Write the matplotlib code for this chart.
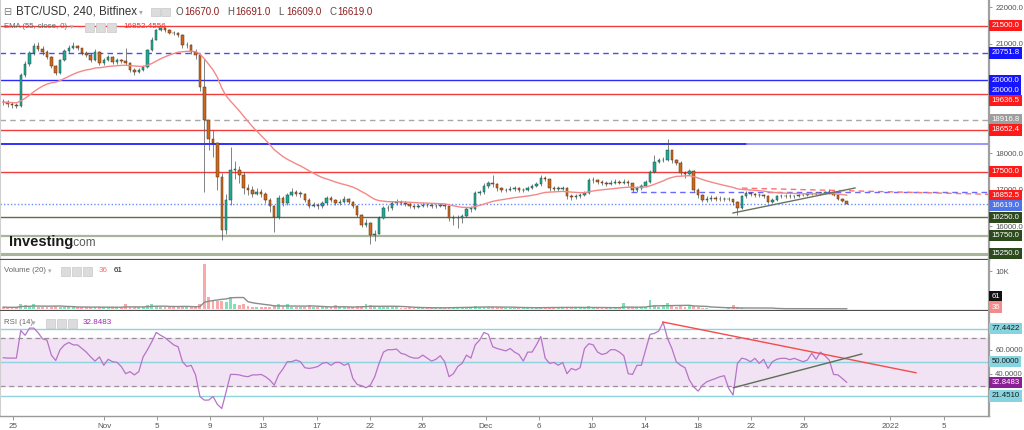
import numpy as np
import pandas as pd
import matplotlib
matplotlib.use("Agg")
import matplotlib.pyplot as plt
from matplotlib.patches import Rectangle
from matplotlib.transforms import blended_transform_factory, ScaledTranslation

W, H = 1024, 430
FONT = ['Liberation Sans', 'DejaVu Sans']
plt.rcParams['font.family'] = FONT

# ---------------- data (8-hour bars) ----------------
first_open = 19420
closes = [
    19400, 19350, 19330, 19300,
    20150, 20450, 20750, 20950,
    20850, 20780, 20640, 20390, 20200, 20560, 20800, 20900, 20930, 20880,
    20750, 20700, 20560, 20780, 20470, 20560, 20640, 20500, 20560, 20520,
    20470, 20280, 20230, 20280, 20370, 20830, 21120, 21380, 21430, 21370,
    21310, 21300, 21250, 20960, 20960, 20780, 20690, 19820, 18910, 18400,
    18280, 17350, 15900, 16730, 17550, 17550, 17410, 17050, 16990, 16900,
    16950, 16900, 16730, 16550, 16260, 16780, 16640, 16850, 16950, 16900,
    16900, 16730, 16570, 16600, 16550, 16640, 16780, 16730, 16650, 16680,
    16750, 16680, 16550, 16310, 16040, 16080, 15760, 15800, 16230, 16500,
    16500, 16640, 16680, 16640, 16620, 16550, 16530, 16560, 16600, 16580,
    16550, 16560, 16580, 16550, 16230, 16230, 16230, 16280, 16480, 16480,
    16910, 16950, 17100, 17180, 17150, 17050, 16990, 16990, 17030, 17050,
    16990, 17000, 17050, 17100, 17150, 17330, 17290, 17050, 17030, 17030,
    17050, 16820, 16800, 16840, 16850, 16910, 17270, 17270, 17230, 17190,
    17170, 17200, 17230, 17200, 17230, 17190, 17000, 17050, 17100, 17230,
    17490, 17770, 17810, 17830, 18090, 17810, 17750, 17460, 17440, 17530,
    16990, 16850, 16730, 16750, 16780, 16750, 16760, 16750, 16750, 16680,
    16500, 16820, 16910, 16880, 16850, 16860, 16820, 16680, 16730, 16820,
    16840, 16820, 16840, 16820, 16850, 16860, 16880, 16890, 16910, 16890,
    16930, 16950, 16860, 16750, 16700, 16619,
]
highs = [
    19480, 19450, 19420, 19380,
    20200, 20520, 20800, 21020,
    21050, 20950, 20820, 20680, 20420, 20600, 20850, 20980, 21050, 20980,
    20900, 20800, 20760, 20850, 20800, 20620, 20700, 20680, 20620, 20600,
    20900, 20500, 20330, 20350, 20420, 20860, 21180, 21420, 21470, 21450,
    21400, 21350, 21330, 21260, 21050, 20990, 20850, 20700, 20600, 18900,
    18650, 18300, 17450, 16900, 18170, 17800, 17650, 17500, 17150, 17100,
    17050, 17030, 16950, 16780, 16600, 16850, 16830, 16920, 17050, 17000,
    16980, 16920, 16770, 16680, 16650, 16700, 16830, 16820, 16760, 16740,
    16820, 16780, 16700, 16600, 16350, 16200, 16120, 15900, 16280, 16560,
    16580, 16700, 16750, 16720, 16700, 16650, 16600, 16620, 16660, 16640,
    16620, 16620, 16640, 16620, 16560, 16300, 16300, 16350, 16520, 16550,
    16980, 17000, 17180, 17250, 17400, 17200, 17080, 17060, 17100, 17120,
    17080, 17060, 17120, 17160, 17230, 17420, 17380, 17300, 17100, 17100,
    17120, 17080, 16880, 16900, 16920, 16960, 17320, 17350, 17300, 17260,
    17240, 17260, 17300, 17270, 17300, 17270, 17200, 17100, 17150, 17280,
    17550, 17950, 17880, 17900, 18400, 18100, 17850, 17780, 17520, 17580,
    17550, 17050, 16900, 16820, 16850, 16820, 16820, 16810, 16800, 16760,
    16700, 16860, 16980, 16950, 16920, 16920, 16900, 16850, 16770, 16860,
    16890, 16880, 16880, 16870, 16880, 16900, 16920, 16930, 16950, 16940,
    16970, 17020, 16970, 16880, 16780, 16691,
]
lows = [
    19330, 19260, 19250, 19240,
    19280, 20100, 20400, 20700,
    20800, 20700, 20580, 20350, 20150, 20180, 20520, 20750, 20850, 20820,
    20700, 20640, 20500, 20520, 20420, 20430, 20520, 20460, 20450, 20470,
    20420, 20220, 20150, 20200, 20250, 20340, 20800, 21100, 21350, 21320,
    21260, 21250, 21200, 20900, 20900, 20720, 20600, 19700, 16950, 18100,
    17900, 17000, 15630, 15800, 16600, 17300, 17200, 16900, 16850, 16800,
    16850, 16800, 16650, 16400, 15850, 16200, 16550, 16600, 16820, 16820,
    16800, 16680, 16500, 16520, 16480, 16500, 16600, 16680, 16600, 16600,
    16650, 16620, 16500, 16250, 15980, 15980, 15530, 15600, 15780, 16200,
    16420, 16450, 16600, 16580, 16560, 16500, 16470, 16500, 16520, 16520,
    16500, 16500, 16520, 16480, 16150, 16050, 15950, 16100, 16250, 16400,
    16450, 16850, 16900, 17050, 17080, 16980, 16940, 16930, 16960, 16980,
    16940, 16950, 16980, 17020, 17080, 17120, 17250, 16980, 16970, 16980,
    16990, 16760, 16730, 16760, 16790, 16820, 16880, 17200, 17170, 17140,
    17120, 17140, 17170, 17150, 17170, 17100, 16950, 16950, 17000, 17080,
    17200, 17450, 17740, 17760, 17800, 17750, 17680, 17400, 17330, 17400,
    16950, 16780, 16660, 16680, 16700, 16690, 16700, 16690, 16700, 16600,
    16310, 16480, 16780, 16820, 16800, 16800, 16780, 16640, 16650, 16700,
    16780, 16780, 16790, 16780, 16800, 16820, 16840, 16850, 16860, 16850,
    16880, 16900, 16830, 16720, 16660, 16609,
]
rsi = [
    53.3, 53, 53, 53, 76, 72, 78, 78, 74, 69,
    68, 55.5, 51, 60, 64, 66, 64, 64, 61, 58,
    54, 50.5, 54, 47, 52, 50, 49.5, 46, 40, 41.7,
    39, 41.7, 54, 60, 66.7, 74.4, 72, 70, 67, 64,
    62.5, 50, 46, 47, 39, 21, 18, 18, 21, 14.4,
    11, 25, 39.4, 39.4, 39, 38, 37.5, 39, 39, 39.4,
    37.5, 34.7, 30.5, 39, 44, 50, 50, 51.4, 50, 45,
    44.4, 45, 46, 48.6, 49.4, 47, 49.4, 49.4, 47, 48.6,
    36, 31, 30, 28.3, 30.5, 37.5, 48.6, 58, 60, 60,
    60.5, 57, 56, 54, 53, 53, 55.5, 53, 50.5, 52,
    55, 50, 37.5, 40, 46, 48.6, 55.5, 53, 64, 68,
    74.4, 72.8, 62.5, 61, 60, 59, 61, 58, 56, 50.5,
    58, 58, 64, 71, 53, 48.6, 49.4, 47, 49.4, 40,
    44.4, 43, 45, 61, 65, 64, 58, 56, 57, 60,
    60, 58, 55, 40, 39.4, 47, 47, 60, 72.8, 73.6,
    75.6, 82.8, 69.4, 61, 50, 47, 45, 34.7, 29, 25.5,
    30.5, 33.3, 34.7, 36, 37.5, 38.3, 27.8, 22.2, 48.6, 53,
    52, 50, 52.8, 48.6, 52, 44.4, 50, 52, 52.8, 52.8,
    51.7, 52.8, 51.4, 50, 51.4, 57, 52, 58, 55, 51.4,
    39.4, 39, 36, 32.85,
]
volume_k = [
    0.5, 0.4, 0.4, 0.5, 1.4, 1.0, 0.8, 1.3, 0.6, 0.5,
    0.5, 0.6, 0.7, 0.5, 0.6, 0.5, 0.4, 0.4, 0.5, 0.4,
    0.5, 0.6, 0.5, 0.4, 0.4, 0.5, 0.4, 0.4, 1.3, 0.6,
    0.5, 0.4, 0.5, 1.0, 1.3, 0.8, 0.6, 0.5, 0.5, 0.4,
    0.5, 0.7, 0.5, 0.6, 0.8, 1.3, 11.9, 3.2, 2.4, 2.0,
    2.2, 1.8, 3.2, 1.4, 1.0, 1.2, 0.8, 0.6, 0.5, 0.6,
    0.5, 0.6, 1.0, 1.3, 0.7, 1.2, 0.6, 0.5, 0.5, 0.6,
    1.0, 0.5, 0.4, 0.5, 0.5, 0.4, 1.0, 0.5, 0.4, 0.4,
    0.5, 0.7, 0.8, 1.2, 1.1, 0.8, 0.7, 0.6, 0.4, 0.4,
    0.4, 0.3, 0.3, 0.4, 0.3, 0.3, 0.3, 0.3, 0.3, 0.3,
    0.3, 0.3, 0.6, 0.5, 0.5, 0.4, 0.5, 0.4, 0.9, 0.5,
    0.6, 0.5, 0.5, 0.4, 0.4, 0.3, 0.3, 0.3, 0.3, 0.3,
    0.3, 0.3, 0.4, 0.6, 0.5, 0.5, 0.4, 0.3, 0.3, 0.5,
    0.4, 0.3, 0.3, 0.3, 0.7, 0.4, 0.3, 0.3, 0.3, 0.3,
    0.3, 0.3, 1.6, 0.4, 0.5, 0.4, 0.4, 0.6, 2.5, 1.0,
    0.6, 0.7, 1.5, 0.8, 0.6, 0.7, 0.5, 0.8, 0.9, 0.6,
    0.2, 0.15, 0.1, 0.1, 0.1, 0.1, 0.15, 1.0, 0.5, 0.3,
    0.1, 0.1, 0.08, 0.08, 0.08, 0.1, 0.08, 0.06, 0.06, 0.06,
    0.06, 0.06, 0.05, 0.05, 0.06, 0.05, 0.05, 0.06, 0.06, 0.07,
    0.07, 0.08, 0.06, 0.036,
]

x_tick_pos = [1.01, 7.96, 11.95, 16.02, 20.08, 24.16, 28.22, 32.19, 37.07,
              41.11, 45.16, 49.2, 53.24, 57.28, 61.33, 67.89, 72.0]
x_tick_labels = ['25', 'Nov', '5', '9', '13', '17', '22', '26', 'Dec',
                 '6', '10', '14', '18', '22', '26', '2022', '5']

price_ticks = [22000, 21000, 18000, 17000, 16000]
rsi_ticks = [60, 40]

# horizontal levels on the price panel: value, colour, style, width
price_levels = [
    (21500.0, '#f23c3c', '-', 1.0),
    (20751.8, '#4a4aff', (0, (4, 3)), 1.0),
    (20000.0, '#2a2aff', '-', 1.0),
    (19636.5, '#f23c3c', '-', 1.0),
    (18916.8, '#a8a8a8', (0, (4, 3)), 1.0),
    (18652.4, '#f23c3c', '-', 1.0),
    (17500.0, '#f23c3c', '-', 1.0),
    (16619.0, '#6d8dff', (0, (1, 1.5)), 1.0),
    (16250.0, '#5b7049', '-', 1.0),
    (15750.0, '#a9b59a', '-', 1.6),
    (15250.0, '#a9b59a', '-', 2.2),
]
# right-axis boxed labels: value, text, face, text colour
price_boxes = [
    (21500.0, '21500.0', '#ff1a1a', 'white'),
    (20751.8, '20751.8', '#1515ff', 'white'),
    (20000.0, '20000.0', '#1515ff', 'white'),
    (20000.0, '20000.0', '#1515ff', 'white'),
    (19636.5, '19636.5', '#ff1a1a', 'white'),
    (18916.8, '18916.8', '#9e9e9e', 'white'),
    (18652.4, '18652.4', '#ff1a1a', 'white'),
    (17500.0, '17500.0', '#ff1a1a', 'white'),
    (16852.5, '16852.5', '#ff1a1a', 'white'),
    (16619.0, '16619.0', '#4f74e8', 'white'),
    (16250.0, '16250.0', '#2c4a1c', 'white'),
    (15750.0, '15750.0', '#2c4a1c', 'white'),
    (15250.0, '15250.0', '#2c4a1c', 'white'),
]
rsi_levels = [77.4422, 50.0, 21.451]
rsi_boxes = [
    (77.4422, '77.4422', '#86d4e0', '#1a1a1a'),
    (50.0, '50.0000', '#86d4e0', '#1a1a1a'),
    (32.8483, '32.8483', '#8a1f96', 'white'),
    (21.451, '21.4510', '#86d4e0', '#1a1a1a'),
]
vol_boxes = [(3.2, '61', '#111111', 'white'), (0.5, '36', '#f58a8a', 'white')]

header_title = 'BTC/USD, 240, Bitfinex'
ohlc_text = [('O', '16670.0'), ('H', '16691.0'), ('L', '16609.0'), ('C', '16619.0')]
ema_title, ema_value = 'EMA (55, close, 0)', '16852.4556'
vol_title, vol_last, vol_ma_last = 'Volume (20)', '36', '61'
rsi_title, rsi_value = 'RSI (14)', '32.8483'

# ---------------- derived series ----------------
n = len(closes)
t = 0.25 + np.arange(n) / 3.0          # bar time in days (8h bars)
opens = np.array([first_open] + closes[:-1], dtype=float)
closes_a = np.array(closes, dtype=float)
up = closes_a >= opens
ema = pd.Series(closes_a).ewm(alpha=1 - (1 - 2 / 56) ** 2, adjust=False).mean()
vol_ma = pd.Series(volume_k).rolling(10, min_periods=1).mean()

# ---------------- figure ----------------
fig = plt.figure(figsize=(W / 100, H / 100), dpi=100)
fig.patch.set_facecolor('white')
PLOT_W = 989


def add_ax(top, bottom):
    return fig.add_axes([0, 1 - bottom / H, PLOT_W / W, (bottom - top) / H])


ax_p = add_ax(0, 260)
ax_v = add_ax(260, 311)
ax_r = add_ax(311, 416)
XMAX = PLOT_W / 13.11
for ax in (ax_p, ax_v, ax_r):
    ax.set_xlim(0, XMAX)
    ax.set_facecolor('white')
    ax.spines['top'].set_visible(False)
    ax.spines['left'].set_color('#cfcfcf')
    ax.spines['right'].set_color('#a0a0a0')
    ax.spines['right'].set_linewidth(1.6)
    ax.spines['bottom'].set_color('#4d4d4d')
    ax.spines['bottom'].set_linewidth(1.6)
    ax.yaxis.tick_right()
    ax.tick_params(axis='y', length=2.5, width=0.6, color='#888', pad=2,
                   labelsize=5.6, labelcolor='#555')
    ax.set_xticks(x_tick_pos)
ax_p.tick_params(axis='x', length=0, labelbottom=False)
ax_v.tick_params(axis='x', length=0, labelbottom=False)
ax_r.spines['bottom'].set_color('#9a9a9a')
ax_r.spines['bottom'].set_linewidth(1.0)
ax_r.tick_params(axis='x', length=3, width=0.6, color='#888', pad=2,
                 labelsize=5.8, labelcolor='#555')
ax_r.set_xticklabels(x_tick_labels)

# ---- price panel ----
ax_p.set_ylim(15080, 22203)
ax_p.set_yticks(price_ticks)
ax_p.set_yticklabels([f'{v:.1f}' for v in price_ticks])
for val, col, ls, lw in price_levels:
    ax_p.axhline(val, color=col, ls=ls, lw=lw, zorder=1)
# blue horizontal near 18250 (strong part then faded)
ax_p.plot([0, 57.0], [18250, 18250], color='#2020ff', lw=1.3, zorder=1)
ax_p.plot([57.0, XMAX], [18250, 18250], color='#8c8cff', lw=1.3, zorder=1)
# short dashed lines near the end
ax_p.plot([48.1, XMAX], [16950, 16950], color='#6a6aff', lw=1.0,
          ls=(0, (4, 3)), zorder=1)
ax_p.plot([56.6, XMAX], [17050, 16880], color='#ff7070', lw=1.0,
          ls=(0, (4, 3)), zorder=1)

# candles
ax_p.vlines(t, lows, highs, color='#505050', lw=0.5, zorder=3)
body_lo = np.minimum(opens, closes_a)
body_h = np.maximum(np.abs(closes_a - opens), 12)
ax_p.bar(t[up], body_h[up], bottom=body_lo[up], width=0.19,
         color='#22a892', edgecolor='#1d4f47', lw=0.35, zorder=4)
ax_p.bar(t[~up], body_h[~up], bottom=body_lo[~up], width=0.19,
         color='#c8691f', edgecolor='#5a2e0e', lw=0.35, zorder=4)
ax_p.plot(t, ema, color='#f48888', lw=1.0, zorder=5)
# trend line under the last consolidation
ax_p.plot([55.91, 65.22], [16368, 17053], color='#66745e', lw=1.0, zorder=5)

# ---- volume panel ----
ax_v.set_ylim(-0.54, 13.0)
ax_v.set_yticks([10])
ax_v.set_yticklabels(['10K'])
vcol = np.where(up, '#7fe2b6', '#f8a9a9')
ax_v.bar(t, volume_k, width=0.22, color=vcol, zorder=2)
ax_v.plot(t, vol_ma, color='#8c8c8c', lw=1.0, zorder=3)

# ---- RSI panel ----
ax_r.set_ylim(4.75, 92.25)
ax_r.set_yticks(rsi_ticks)
ax_r.set_yticklabels([f'{v:.4f}' for v in rsi_ticks])
ax_r.axhspan(30, 70, color='#f1e3f3', zorder=0)
for v in (70, 30):
    ax_r.axhline(v, color='#9b8f9b', lw=0.9, ls=(0, (4, 3)), zorder=1)
for v in rsi_levels:
    ax_r.axhline(v, color='#8fd3df', lw=1.0, zorder=1)
ax_r.plot(t, rsi, color='#b773c8', lw=0.9, zorder=3)
ax_r.plot([50.55, 69.87], [83.1, 40.8], color='#f24c4c', lw=1.0, zorder=4)
ax_r.plot([55.94, 65.73], [28.3, 56.4], color='#5f6e58', lw=1.0, zorder=4)


# ---- right-axis boxed labels ----
def boxed_labels(ax, items, gap_px=10.0):
    disp = [(ax.transData.transform((0, v))[1], txt, fc, tc) for v, txt, fc, tc in items]
    disp.sort(key=lambda d: -d[0])
    placed = []
    last = None
    for y, txt, fc, tc in disp:
        if last is not None and last - y < gap_px:
            y = last - gap_px
        placed.append((y, txt, fc, tc))
        last = y
    tr = blended_transform_factory(ax.transAxes, ax.transData) + \
        ScaledTranslation(2.5 / 100, 0, fig.dpi_scale_trans)
    for y, txt, fc, tc in placed:
        yd = ax.transData.inverted().transform((0, y))[1]
        ax.text(1.0, yd, txt, transform=tr, ha='left', va='center',
                fontsize=5.6, color=tc, clip_on=False, zorder=20,
                bbox=dict(boxstyle='square,pad=0.28', fc=fc, ec='none'))


boxed_labels(ax_p, price_boxes)
boxed_labels(ax_r, rsi_boxes)
boxed_labels(ax_v, vol_boxes)


# ---------------- overlay texts ----------------
def ftxt(x, y, s, **kw):
    kw.setdefault('va', 'center')
    kw.setdefault('ha', 'left')
    fig.text(x / W, 1 - y / H, s, **kw)


def icons(x0, y, count, size=8, step=10.5):
    for k in range(count):
        fig.add_artist(Rectangle(((x0 + k * step) / W, 1 - (y + size / 2) / H),
                                 size / W, size / H, transform=fig.transFigure,
                                 fc='#dcdcdc', ec='#c8c8c8', lw=0.5, zorder=30))


ftxt(3, 12, '⊟', fontsize=7, color='#777777', family=['DejaVu Sans'])
ftxt(16, 12, header_title, fontsize=8.3, color='#333333')
ftxt(139, 12, '▾', fontsize=5.5, color='#aaaaaa', family=['DejaVu Sans'])
icons(151, 12, 2, size=8.5, step=10)
ox = 176
for letter, val in ohlc_text:
    ftxt(ox, 12, letter, fontsize=7, color='#555555')
    ftxt(ox + 8, 12, val, fontsize=7, color='#8b1d1d')
    ox += 51

ftxt(4, 27, ema_title, fontsize=5.6, color='#666666')
ftxt(70, 27, '▾', fontsize=5, color='#aaaaaa', family=['DejaVu Sans'])
icons(85, 27, 3, size=9, step=11)
ftxt(123, 27, ema_value, fontsize=5.8, color='#f23030')

ftxt(9, 242, 'Investing', fontsize=10.5, weight='bold', color='#1a1a1a')
ftxt(71, 243, '.com', fontsize=8.5, color='#5a5a5a')

ftxt(4, 271, vol_title, fontsize=5.6, color='#666666')
ftxt(48, 271, '▾', fontsize=5, color='#aaaaaa', family=['DejaVu Sans'])
icons(61, 271, 3, size=9, step=11)
ftxt(99, 271, vol_last, fontsize=5.8, color='#f07070')
ftxt(114, 271, vol_ma_last, fontsize=5.8, color='#111111')

ftxt(4, 323, rsi_title, fontsize=5.6, color='#666666')
ftxt(32, 323, '▾', fontsize=5, color='#aaaaaa', family=['DejaVu Sans'])
icons(46, 323, 3, size=9, step=11)
ftxt(83, 323, rsi_value, fontsize=5.8, color='#9c27b0')

fig.savefig('out.png', dpi=100)
